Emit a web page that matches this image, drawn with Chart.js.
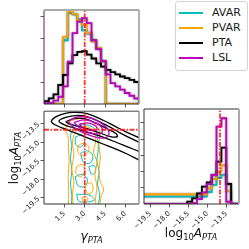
<!DOCTYPE html>
<html>
<head>
<meta charset="utf-8">
<script src="https://cdn.jsdelivr.net/npm/chart.js@4.4.0/dist/chart.umd.min.js"></script>
<style>
  html, body { margin: 0; padding: 0; background: #fff; }
  body { width: 249px; height: 249px; position: relative; overflow: hidden; font-family: 'DejaVu Sans', sans-serif; }
  canvas { position: absolute; }
  #legend { position: absolute; left: 175px; top: 1px; width: 71px; height: 68px; border: 1px solid #d4d4d4; border-radius: 3px; background: #fff; }
  .row { position: absolute; left: 0; width: 71px; height: 14px; font-size: 11px; line-height: 14px; color: #1a1a1a; }
  .row i { position: absolute; left: 3px; top: 6px; width: 24px; height: 2px; }
  .row span { position: absolute; left: 36px; top: 0; }
</style>
</head>
<body>
<canvas id="topHist" width="145" height="110" style="left:0;top:0"></canvas>
<canvas id="joint" width="145" height="144" style="left:0;top:105px"></canvas>
<canvas id="sideHist" width="139" height="144" style="left:110px;top:105px"></canvas>
<div id="legend"></div>
<script>
// ---- data ----
const seriesNames = ['AVAR', 'PVAR', 'PTA', 'LSL'];
const seriesColors = ['#00bfbf', '#ffa500', '#000000', '#bf00bf'];

const gammaTrue = 3.0;
const logATrue = -14.0;
const gammaTicks = [1.5, 3.0, 4.5, 6.0];
const logATicks = [-19.5, -18.0, -16.5, -15.0, -13.5];

// gamma histograms: 20 bins from 0, width 0.35
const gammaStart = 0;
const gammaBin = 0.35;
const gammaAVAR = [0, 0, 0, 0, 0.58, 0.83, 0.815, 0.77, 0.67, 0.64, 0.58, 0.5, 0.39, 0, 0, 0, 0, 0, 0, 0];
const gammaPVAR = [0, 0, 0, 0, 0.61, 0.84, 0.82, 0.76, 0.72, 0.645, 0.57, 0.51, 0.39, 0, 0, 0, 0, 0, 0, 0];
const gammaPTA = [0.027, 0.052, 0.088, 0.173, 0.264, 0.37, 0.445, 0.475, 0.48, 0.45, 0.414, 0.37, 0.34, 0.31, 0.29, 0.27, 0.25, 0.235, 0.22, 0.2];
const gammaLSL = [0.005, 0.01, 0.03, 0.066, 0.16, 0.385, 0.645, 0.75, 0.78, 0.735, 0.58, 0.5, 0.39, 0.27, 0.19, 0.16, 0.13, 0.1, 0.075, 0.05];

// log10 A histograms: 20 bins from -20.05, width 0.385
const logAStart = -20.05;
const logABin = 0.385;
const logAAVAR = [0.225, 0.225, 0.225, 0.225, 0.225, 0.225, 0.225, 0.225, 0.225, 0.225, 0.225, 0.225, 0.225, 0.37, 0.59, 0.81, 0.9, 0.62, 0, 0];
const logAPVAR = [0.3, 0.3, 0.3, 0.3, 0.3, 0.3, 0.3, 0.3, 0.3, 0.3, 0.3, 0.3, 0.3, 0.485, 0.77, 1.0, 1.2, 0.4, 0, 0];
const logAPTA = [0, 0, 0, 0, 0, 0, 0, 0, 0, 0.071, 0.176, 0.33, 0.534, 0.67, 0.895, 1.305, 1.74, 0.617, 0, 0];
const logALSL = [0, 0, 0, 0, 0, 0, 0, 0, 0, 0, 0.03, 0.154, 0.36, 0.61, 0.895, 2.386, 2.645, 0.07, 0, 0];

// 2D contour lines, [gamma, log10A]
const contAVAR = [
  [[2.0, -20.3], [2.05, -19.3], [1.95, -18.3], [2.05, -17.3], [1.95, -16.3], [2.05, -15.3], [1.95, -14.5], [2.2, -13.9], [2.7, -13.6], [3.3, -13.65], [3.8, -14.0], [3.95, -14.7], [4.0, -15.6], [3.9, -16.5], [4.05, -17.4], [3.95, -18.4], [4.1, -19.3], [3.95, -20.3]],
  [[2.3, -14.6], [2.8, -14.4], [3.0, -14.9], [2.7, -15.4], [2.35, -15.2], [2.3, -14.6]],
  [[2.7, -15.9], [3.2, -15.7], [3.6, -16.1], [3.4, -16.7], [2.9, -16.6], [2.7, -15.9]],
  [[2.3, -17.8], [2.8, -17.6], [3.2, -18.0], [3.0, -18.6], [2.5, -18.5], [2.3, -17.8]],
  [[3.3, -17.0], [3.7, -16.9], [3.8, -17.4], [3.5, -17.6], [3.3, -17.0]],
  [[2.4, -19.2], [3.4, -19.3], [3.7, -19.7], [2.6, -19.8], [2.4, -19.2]]
];
const contPVAR = [
  [[1.8, -20.3], [1.82, -19.0], [1.78, -17.8], [1.85, -16.6], [1.8, -15.4], [1.78, -14.6], [1.6, -14.0], [1.75, -13.5], [2.2, -13.2], [2.8, -13.1], [3.4, -13.25], [3.9, -13.7], [4.1, -14.3], [4.05, -15.2], [4.15, -16.2], [4.05, -17.2], [4.15, -18.2], [4.4, -18.8], [4.2, -19.4], [4.1, -20.3]],
  [[2.15, -20.3], [2.1, -19.2], [2.2, -18.2], [2.05, -17.2], [2.2, -16.0], [2.1, -15.0], [2.3, -14.2], [2.7, -13.8], [3.3, -13.8], [3.7, -14.2], [3.8, -15.0], [3.65, -15.8], [3.9, -16.6], [3.75, -17.6], [3.9, -18.6], [3.8, -19.6], [3.85, -20.3]],
  [[2.5, -15.3], [2.9, -15.1], [3.3, -15.4], [3.2, -15.9], [2.8, -16.1], [2.5, -15.8], [2.5, -15.3]],
  [[2.4, -17.0], [2.8, -16.8], [3.0, -17.3], [2.7, -17.8], [2.35, -17.5], [2.4, -17.0]],
  [[3.1, -18.4], [3.5, -18.3], [3.6, -18.9], [3.3, -19.2], [3.05, -18.8], [3.1, -18.4]],
  [[2.8, -19.5], [3.1, -19.4], [3.2, -19.7], [2.9, -19.85], [2.8, -19.5]]
];
const contPTA = [
  [[7.0, -14.65], [6.0, -14.15], [5.2, -13.7], [4.4, -13.25], [3.6, -12.85], [2.8, -12.62], [2.0, -12.6], [1.3, -12.75], [0.8, -13.0], [0.55, -13.35], [1.0, -13.7], [1.6, -13.95], [2.4, -14.3], [3.2, -14.65], [4.0, -15.0], [4.7, -15.3], [5.4, -15.6], [6.2, -16.0], [7.0, -16.45]],
  [[7.0, -15.0], [6.4, -14.7], [5.6, -14.25], [4.8, -13.75], [4.0, -13.3], [3.2, -12.95], [2.4, -12.85], [1.6, -13.0], [1.1, -13.3], [1.5, -13.6], [2.2, -13.85], [3.0, -14.15], [3.8, -14.4], [4.6, -14.7], [5.4, -15.05], [6.2, -15.4], [7.0, -15.75]],
  [[1.6, -13.35], [2.2, -13.1], [3.0, -13.1], [3.8, -13.45], [4.6, -13.9], [5.3, -14.3], [5.4, -14.55], [4.9, -14.55], [4.1, -14.25], [3.3, -13.95], [2.5, -13.7], [1.9, -13.55], [1.6, -13.35]]
];
const contLSL = [
  [[1.8, -13.35], [2.2, -13.05], [3.0, -12.95], [3.8, -13.2], [4.5, -13.7], [4.8, -14.3], [4.5, -14.65], [3.8, -14.6], [3.0, -14.3], [2.3, -13.9], [1.8, -13.35]],
  [[2.2, -13.4], [3.0, -13.2], [3.8, -13.45], [4.3, -13.9], [4.2, -14.3], [3.6, -14.3], [2.8, -14.0], [2.2, -13.4]],
  [[2.6, -13.55], [3.2, -13.45], [3.8, -13.7], [3.9, -14.0], [3.4, -14.05], [2.9, -13.85], [2.6, -13.55]]
];

const gammaRange = [0, 7];
const logARange = [-20, -12.5];
const gammaDensMax = 0.855;
const logADensMax = 2.93;

// ---- helpers ----
function steps(start, width, vals) {
  const pts = [{ x: start, y: 0 }];
  vals.forEach((v, i) => {
    pts.push({ x: start + i * width, y: v });
    pts.push({ x: start + (i + 1) * width, y: v });
  });
  pts.push({ x: start + vals.length * width, y: 0 });
  return pts;
}
const toPts = line => line.map(p => ({ x: p[0], y: p[1] }));
const fmt = v => v.toFixed(1).replace('-', '\u2212');
const RED = 'rgba(255,20,20,0.85)';
const DASH = [5, 1.5, 1.5, 1.5];

function redLine(pts) {
  return { data: pts, borderColor: RED, borderWidth: 1.8, borderDash: DASH, showLine: true, pointRadius: 0 };
}
function histSets(start, width, lists) {
  // listed top-most first: Chart.js paints dataset 0 last
  return [3, 2, 1, 0].map(k => ({
    data: steps(start, width, lists[k]), borderColor: seriesColors[k], borderWidth: 1.8,
    showLine: true, pointRadius: 0, halo: true
  }));
}
function contourSets(groups) {
  const out = [];
  [3, 2, 1, 0].forEach(k => {
    groups[k].forEach(line => out.push({
      data: toPts(line), borderColor: seriesColors[k], borderWidth: k === 0 || k === 1 ? 1 : 1.3,
      showLine: true, pointRadius: 0, tension: 0.35
    }));
  });
  return out;
}

function axis(range, ticks, labels, fitSize, horizontal, extra) {
  return Object.assign({
    type: 'linear', min: range[0], max: range[1],
    afterBuildTicks: s => { s.ticks = ticks.map(v => ({ value: v })); },
    afterFit: s => { if (horizontal) s.height = fitSize; else s.width = fitSize; },
    grid: { display: true, drawOnChartArea: false, drawTicks: true, tickLength: 3.5, tickWidth: 0.8, tickColor: '#333' },
    border: { display: false },
    ticks: {
      display: labels, autoSkip: false, minRotation: 45, maxRotation: 45, padding: 2,
      color: '#222', font: { family: 'DejaVu Sans', size: 7 }, callback: v => fmt(v)
    }
  }, extra || {});
}

// frame and halo and rich-text titles
const framePlugin = {
  id: 'frame',
  afterDatasetsDraw(chart, args, o) {
    const { ctx, chartArea: a } = chart;
    const side = (x1, y1, x2, y2, s) => {
      ctx.beginPath(); ctx.strokeStyle = s[0]; ctx.lineWidth = s[1];
      ctx.moveTo(x1, y1); ctx.lineTo(x2, y2); ctx.stroke();
    };
    ctx.save();
    side(a.left, a.bottom, a.right, a.bottom, o.bottom);
    side(a.left, a.top, a.left, a.bottom, o.left);
    side(a.left, a.top, a.right, a.top, o.top);
    side(a.right, a.top, a.right, a.bottom, o.right);
    ctx.restore();
  }
};
const haloPlugin = {
  id: 'halo',
  beforeDatasetDraw(chart, args) {
    if (!chart.data.datasets[args.index].halo) return;
    chart.ctx.save();
    chart.ctx.shadowColor = 'rgba(0,0,0,0.45)';
    chart.ctx.shadowBlur = 2;
  },
  afterDatasetDraw(chart, args) {
    if (chart.data.datasets[args.index].halo) chart.ctx.restore();
  }
};
const titlePlugin = {
  id: 'richTitles',
  afterDraw(chart, args, o) {
    const ctx = chart.ctx;
    (o.items || []).forEach(it => {
      ctx.save();
      ctx.translate(it.x, it.y);
      ctx.rotate(it.rot || 0);
      let w = 0;
      it.segs.forEach(s => { ctx.font = s.font; w += ctx.measureText(s.t).width; });
      let cx = -w / 2;
      ctx.fillStyle = '#111';
      ctx.textBaseline = 'alphabetic';
      it.segs.forEach(s => { ctx.font = s.font; ctx.fillText(s.t, cx, s.dy || 0); cx += ctx.measureText(s.t).width; });
      ctx.restore();
    });
  }
};
const F = "'DejaVu Sans'";
const logASegs = [
  { t: 'log', font: '12px ' + F },
  { t: '10', font: '8.4px ' + F, dy: 3 },
  { t: 'A', font: 'italic 12px ' + F },
  { t: 'PTA', font: 'italic 8.4px ' + F, dy: 3 }
];
const gammaSegs = [
  { t: '\u03b3', font: 'italic 12.5px ' + F },
  { t: 'PTA', font: 'italic 8.4px ' + F, dy: 3 }
];

const common = {
  type: 'scatter',
  plugins: [haloPlugin, framePlugin, titlePlugin]
};
const basePlugins = { legend: { display: false }, tooltip: { enabled: false } };

// ---- top: gamma marginal ----
new Chart(document.getElementById('topHist'), Object.assign({}, common, {
  data: {
    datasets: [redLine([{ x: gammaTrue, y: 0 }, { x: gammaTrue, y: gammaDensMax }])]
      .concat(histSets(gammaStart, gammaBin, [gammaAVAR, gammaPVAR, gammaPTA, gammaLSL]))
  },
  options: {
    responsive: false, animation: false,
    layout: { padding: { left: 0, right: 6, top: 10, bottom: 0 } },
    scales: {
      x: axis(gammaRange, gammaTicks, false, 6, true),
      y: axis([0, gammaDensMax], [0.2, 0.4, 0.6, 0.8], false, 44, false)
    },
    plugins: Object.assign({}, basePlugins, {
      frame: { bottom: ['#333', 1], left: ['#602060', 1], top: ['#aaa', 2], right: ['#999', 1.5] }
    })
  }
}));

// ---- joint: contours ----
new Chart(document.getElementById('joint'), Object.assign({}, common, {
  data: {
    datasets: [
      { data: [{ x: gammaTrue, y: logATrue }], pointStyle: 'rect', pointRadius: 2.6, backgroundColor: 'rgb(255,0,0)', borderColor: 'rgb(255,0,0)', borderWidth: 0 },
      redLine([{ x: gammaTrue, y: logARange[0] }, { x: gammaTrue, y: logARange[1] }]),
      redLine([{ x: gammaRange[0], y: logATrue }, { x: gammaRange[1], y: logATrue }])
    ].concat(contourSets([contAVAR, contPVAR, contPTA, contLSL]))
  },
  options: {
    responsive: false, animation: false,
    layout: { padding: { left: 0, right: 6, top: 4, bottom: 0 } },
    scales: {
      x: axis(gammaRange, gammaTicks, true, 45, true),
      y: axis(logARange, logATicks, true, 44, false)
    },
    plugins: Object.assign({}, basePlugins, {
      frame: { bottom: ['#333', 1], left: ['#333', 1], top: ['#444', 1], right: ['#999', 1.5] },
      richTitles: { items: [
        { segs: logASegs, x: 18, y: 53, rot: -Math.PI / 2 },
        { segs: gammaSegs, x: 91.5, y: 135 }
      ] }
    })
  }
}));

// ---- side: log10 A marginal ----
new Chart(document.getElementById('sideHist'), Object.assign({}, common, {
  data: {
    datasets: [redLine([{ x: logATrue, y: 0 }, { x: logATrue, y: logADensMax }])]
      .concat(histSets(logAStart, logABin, [logAAVAR, logAPVAR, logAPTA, logALSL]))
  },
  options: {
    responsive: false, animation: false,
    layout: { padding: { left: 0, right: 10, top: 4, bottom: 0 } },
    scales: {
      x: axis(logARange, logATicks, true, 45, true),
      y: axis([0, logADensMax], [0.5, 1.0, 1.5, 2.0, 2.5], false, 34, false)
    },
    plugins: Object.assign({}, basePlugins, {
      frame: { bottom: ['#333', 1], left: ['#333', 1], top: ['#333', 1], right: ['#aaa', 2] },
      richTitles: { items: [{ segs: logASegs, x: 81, y: 131.5 }] }
    })
  }
}));

// ---- legend ----
const legend = document.getElementById('legend');
seriesNames.forEach((name, k) => {
  const row = document.createElement('div');
  row.className = 'row';
  row.style.top = (4 + k * 15) + 'px';
  row.innerHTML = '<i style="background:' + seriesColors[k] + '"></i><span>' + name + '</span>';
  legend.appendChild(row);
});
</script>
</body>
</html>
